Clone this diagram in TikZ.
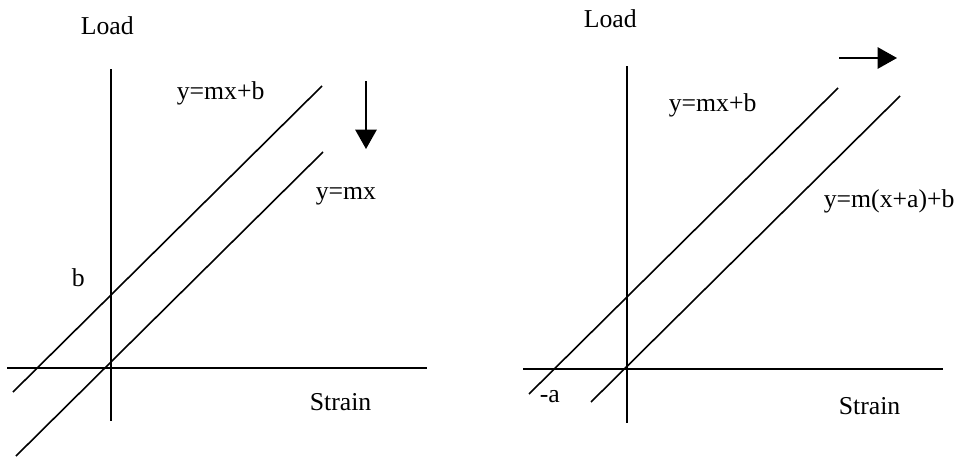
\documentclass[tikz,border=0pt]{standalone}
\usepackage{fontspec}
\setmainfont{Liberation Serif}
\usetikzlibrary{arrows.meta}

\tikzset{every picture/.style={line width=1.2pt}}
\tikzset{
  lbl/.style={anchor=base west,inner sep=0pt,font=\fontsize{19.3}{23}\selectfont},
  shiftarrow/.style={-{Triangle[length=14.5pt,width=16pt]}},
}

\begin{document}
\begin{tikzpicture}[x=0.75pt,y=0.75pt,yscale=-1,xscale=1]
\useasboundingbox (0,0) rectangle (959,457);

%% left graph: shift down
% Axes
\coordinate (lyt) at (111,69);
\coordinate (lyb) at (111,421);
\coordinate (lxl) at (7,368);
\coordinate (lxr) at (427,368);
\draw (lyt) -- (lyb);
\draw (lxl) -- (lxr);
% Lines
\coordinate (lb1) at (13,392);
\coordinate (lb2) at (322,86);
\coordinate (lm1) at (16,456);
\coordinate (lm2) at (323,152);
\draw (lb1) -- (lb2);
\draw (lm1) -- (lm2);
% Arrow
\coordinate (ldn1) at (366,81);
\coordinate (ldn2) at (366,149);
\draw [shiftarrow] (ldn1) -- (ldn2);
% Text Node
\node [lbl] (lload) at (80,34) {Load};
\node [lbl] (lmxb) at (176,99) {y=mx+b};
\node [lbl] (lmx) at (315,199) {y=mx};
\node [lbl] (lb) at (71,286) {b};
\node [lbl] (lstrain) at (309,410) {Strain};

%% right graph: shift right
% Axes
\coordinate (ryt) at (627,66);
\coordinate (ryb) at (627,423);
\coordinate (rxl) at (523,369);
\coordinate (rxr) at (943,369);
\draw (ryt) -- (ryb);
\draw (rxl) -- (rxr);
% Lines
\coordinate (rb1) at (529,394);
\coordinate (rb2) at (838,88);
\coordinate (ra1) at (591,402);
\coordinate (ra2) at (900,96);
\draw (rb1) -- (rb2);
\draw (ra1) -- (ra2);
% Arrow
\coordinate (rrt1) at (839,58);
\coordinate (rrt2) at (897,58);
\draw [shiftarrow] (rrt1) -- (rrt2);
% Text Node
\node [lbl] (rload) at (583,27) {Load};
\node [lbl] (rmxb) at (668,111) {y=mx+b};
\node [lbl] (rmxab) at (823,207) {y=m(x+a)+b};
\node [lbl] (rnega) at (539,402) {-a};
\node [lbl] (rstrain) at (838,414) {Strain};

\end{tikzpicture}
\end{document}
